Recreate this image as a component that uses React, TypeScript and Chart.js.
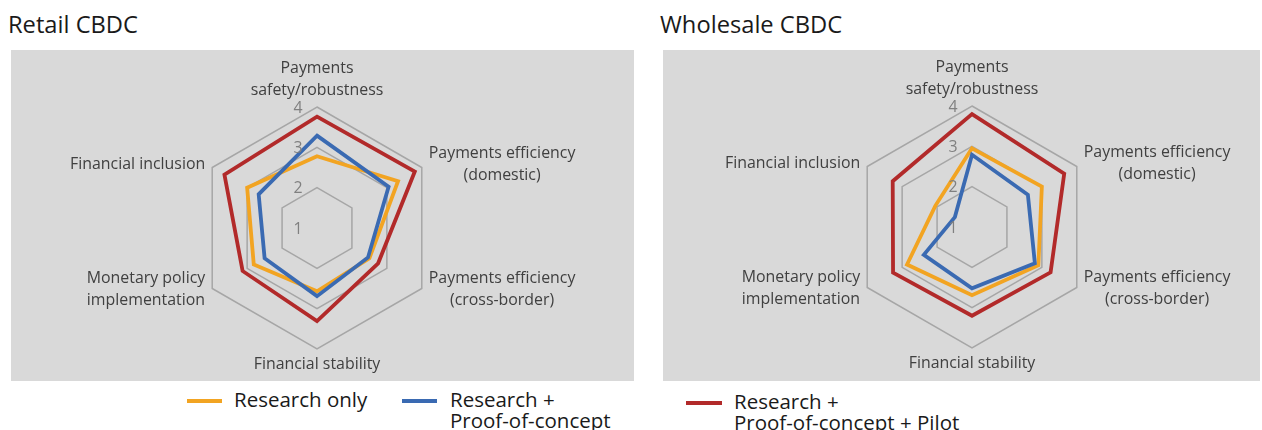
import React, { useEffect, useRef } from "react";
import { Chart, registerables } from "chart.js";

Chart.register(...registerables);

// ---------- data ----------
const categories: string[][] = [
  ["Payments", "safety/robustness"],
  ["Payments efficiency", "(domestic)"],
  ["Payments efficiency", "(cross-border)"],
  ["Financial stability"],
  ["Monetary policy", "implementation"],
  ["Financial inclusion"],
];
const tickValues = [1, 2, 3, 4];
const seriesNames = [
  "Research only",
  "Research + Proof-of-concept",
  "Research + Proof-of-concept + Pilot",
];
const retailResearch = [2.78, 3.32, 2.5, 2.57, 2.81, 3.0];
const retailPoc = [3.29, 3.05, 2.46, 2.69, 2.5, 2.67];
const retailPilot = [3.76, 3.8, 2.75, 3.31, 3.13, 3.65];
const wholesaleResearch = [2.95, 3.0, 2.9, 2.69, 2.86, 2.05];
const wholesalePoc = [2.79, 2.6, 2.8, 2.52, 2.38, 1.49];
const wholesalePilot = [3.8, 3.64, 3.25, 3.2, 3.26, 3.27];

// ---------- styles ----------
const COLORS = ["#F2A422", "#3A6AB2", "#B22A2A"];
const FONT = '"Open Sans", "Noto Sans", sans-serif';
const LABEL_PX = 15.9;
const LINE_H = 22;

const textPlugin = {
  id: "radarText",
  afterDraw(chart: any) {
    const scale = chart.scales.r;
    const ctx = chart.ctx as CanvasRenderingContext2D;
    ctx.save();
    // tick labels (values from the scale)
    ctx.font = `${LABEL_PX}px ${FONT}`;
    ctx.fillStyle = "#808080";
    ctx.textAlign = "center";
    ctx.textBaseline = "middle";
    scale.ticks.forEach((t: any) => {
      const p = scale.getPointPositionForValue(0, t.value);
      ctx.fillText(String(t.value), p.x - 19, p.y + 1);
    });
    // point labels
    ctx.fillStyle = "#404040";
    const sideDy = [0, -3, 1, 0, 1, -3];
    categories.forEach((lines, i) => {
      const p = scale.getPointPosition(i, scale.drawingArea);
      const n = lines.length;
      const w = Math.max(...lines.map((l) => ctx.measureText(l).width));
      let cx = p.x;
      let cy = p.y;
      if (i === 0) {
        cy = p.y - 17 - ((n - 1) * LINE_H) / 2;
      } else if (i === 3) {
        cy = p.y + 15 + ((n - 1) * LINE_H) / 2;
      } else if (i === 1 || i === 2) {
        cx = p.x + 7 + w / 2;
        cy = p.y + sideDy[i];
      } else {
        cx = p.x - 7 - w / 2;
        cy = p.y + sideDy[i];
      }
      lines.forEach((l, k) => {
        ctx.fillText(l, cx, cy + (k - (n - 1) / 2) * LINE_H);
      });
    });
    ctx.restore();
  },
};

function RadarPanel(props: {
  series: number[][];
  width: number;
  height: number;
  padding: { left: number; right: number; top: number; bottom: number };
}) {
  const ref = useRef<HTMLCanvasElement>(null);
  useEffect(() => {
    if (!ref.current) return;
    const chart = new Chart(ref.current, {
      type: "radar",
      data: {
        labels: categories.map((c) => c.join(" ")),
        datasets: props.series.map((s, i) => ({
          label: seriesNames[i],
          data: s,
          borderColor: COLORS[i],
          backgroundColor: "transparent",
          borderWidth: 3.8,
          pointRadius: 0,
          pointHoverRadius: 0,
          fill: false,
          borderJoinStyle: "miter" as const,
          order: [3, 2, 1][i],
        })),
      },
      options: {
        animation: false,
        responsive: false,
        maintainAspectRatio: false,
        layout: { padding: props.padding },
        plugins: {
          legend: { display: false },
          tooltip: { enabled: false },
          title: { display: false },
        },
        scales: {
          r: {
            min: 1,
            max: 4,
            afterBuildTicks: (s: any) => {
              s.ticks = tickValues.map((v) => ({ value: v }));
            },
            ticks: { display: false, stepSize: 1 },
            grid: { color: "#A6A6A6", lineWidth: 1.5 },
            angleLines: { display: false },
            pointLabels: { display: false },
          },
        },
      },
      plugins: [textPlugin],
    });
    return () => chart.destroy();
  }, []);
  return (
    <canvas
      ref={ref}
      width={props.width}
      height={props.height}
      style={{ width: props.width, height: props.height, display: "block" }}
    />
  );
}

function LegendItem(props: { color: string; lines: string[]; left: number; top: number; swatchTop: number; swatchLeft: number; swatchW: number }) {
  return (
    <>
      <div
        style={{
          position: "absolute",
          left: props.swatchLeft,
          top: props.swatchTop,
          width: props.swatchW,
          height: 4,
          background: props.color,
        }}
      />
      <div
        style={{
          position: "absolute",
          left: props.left,
          top: props.top,
          fontSize: 20.5,
          lineHeight: "21px",
          color: "#1a1a1a",
          whiteSpace: "nowrap",
        }}
      >
        {props.lines.map((l, i) => (
          <div key={i}>{l}</div>
        ))}
      </div>
    </>
  );
}

export default function App() {
  return (
    <div
      style={{
        position: "fixed",
        left: 0,
        top: 0,
        width: 1262,
        height: 430,
        background: "#ffffff",
        overflow: "hidden",
        fontFamily: FONT,
      }}
    >
      <div style={{ position: "absolute", left: 8, top: 11, fontSize: 23.7, lineHeight: "27px", color: "#1a1a1a" }}>
        Retail CBDC
      </div>
      <div style={{ position: "absolute", left: 660, top: 11, fontSize: 23.7, lineHeight: "27px", color: "#1a1a1a" }}>
        Wholesale CBDC
      </div>
      <div style={{ position: "absolute", left: 11, top: 50, width: 623, height: 331, background: "#D9D9D9" }}>
        <RadarPanel
          series={[retailResearch, retailPoc, retailPilot]}
          width={623}
          height={331}
          padding={{ left: 185, right: 195, top: 56, bottom: 31 }}
        />
      </div>
      <div style={{ position: "absolute", left: 663, top: 50, width: 597, height: 331, background: "#D9D9D9" }}>
        <RadarPanel
          series={[wholesaleResearch, wholesalePoc, wholesalePilot]}
          width={597}
          height={331}
          padding={{ left: 188, right: 167, top: 56, bottom: 33 }}
        />
      </div>
      <LegendItem color={COLORS[0]} lines={["Research only"]} swatchLeft={187} swatchTop={399} swatchW={35} left={234} top={389} />
      <LegendItem color={COLORS[1]} lines={["Research +", "Proof-of-concept"]} swatchLeft={402} swatchTop={399} swatchW={35} left={450} top={389} />
      <LegendItem color={COLORS[2]} lines={["Research +", "Proof-of-concept + Pilot"]} swatchLeft={686} swatchTop={401} swatchW={36} left={734} top={391} />
    </div>
  );
}
